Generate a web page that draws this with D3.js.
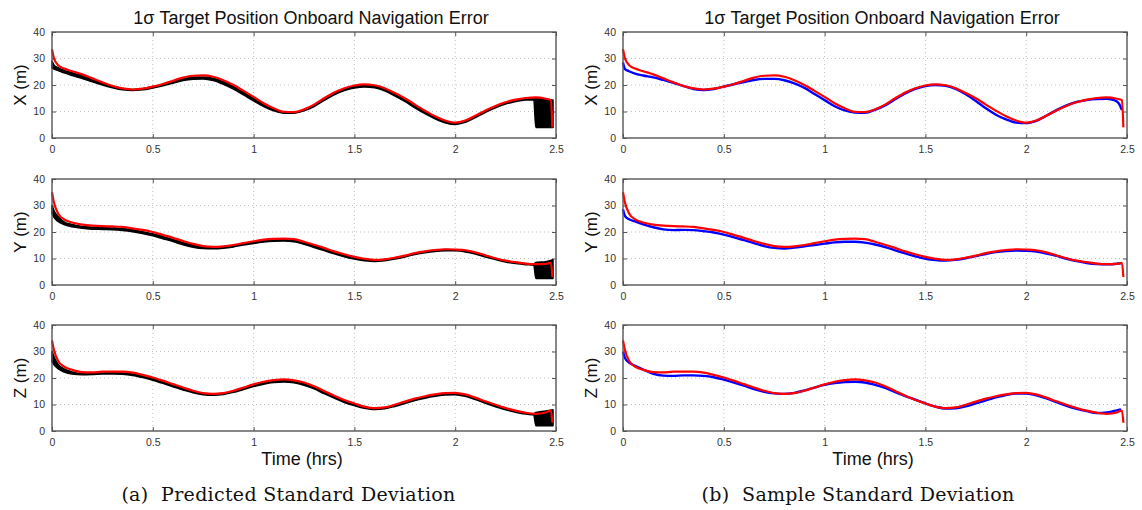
<!DOCTYPE html>
<html>
<head>
<meta charset="utf-8">
<script src="https://cdn.jsdelivr.net/npm/d3@7"></script>
<style>
  html, body { margin: 0; padding: 0; background: #fff; }
  svg { display: block; }
</style>
</head>
<body>
<svg id="fig" width="1142" height="510"></svg>
<script>
// ---- time grid (hrs) shared by the smooth curves ----
const tGrid = [0, 0.01, 0.03, 0.06, 0.1, 0.15, 0.2, 0.25, 0.3, 0.35, 0.4, 0.45, 0.5, 0.55, 0.6, 0.65, 0.7, 0.75, 0.8, 0.85, 0.9, 0.95, 1.0, 1.05, 1.1, 1.15, 1.2, 1.25, 1.3, 1.35, 1.4, 1.45, 1.5, 1.55, 1.6, 1.65, 1.7, 1.75, 1.8, 1.85, 1.9, 1.95, 2.0, 2.05, 2.1, 2.15, 2.2, 2.25, 2.3, 2.35];

// red curve: tail times appended after the grid
const tRedTail = [2.4, 2.45, 2.475, 2.482];
const redX = [33.5, 30, 27.5, 26.2, 25.2, 24, 22.5, 21, 19.6, 18.7, 18.3, 18.6, 19.4, 20.4, 21.6, 22.8, 23.5, 23.6, 23.1, 21.8, 20, 17.8, 15.5, 13.1, 11.2, 9.9, 9.8, 10.8, 12.6, 15, 17.2, 18.8, 19.8, 20.2, 19.9, 18.8, 17, 15, 12.6, 10.3, 8.2, 6.6, 5.8, 6.6, 8.4, 10.4, 12.1, 13.5, 14.5, 15.1, 15.3, 14.8, 14.3, 4];
const redY = [35, 31, 27, 24.8, 23.6, 22.8, 22.4, 22.2, 22.1, 21.9, 21.4, 20.8, 20, 18.9, 17.8, 16.6, 15.5, 14.7, 14.4, 14.6, 15.1, 15.8, 16.5, 17.1, 17.4, 17.5, 17.3, 16.3, 15.2, 14, 12.7, 11.6, 10.6, 9.9, 9.5, 9.7, 10.3, 11.1, 12, 12.7, 13.2, 13.5, 13.4, 13.1, 12.3, 11.2, 10.1, 9.2, 8.6, 8.1, 7.9, 8, 8.4, 3];
const redZ = [34.2, 30.5, 26.5, 24.3, 23.1, 22.2, 22.1, 22.4, 22.4, 22.4, 22, 21.2, 20.2, 19, 17.7, 16.4, 15.2, 14.3, 14, 14.3, 15.2, 16.4, 17.6, 18.6, 19.2, 19.5, 19.1, 18.3, 16.9, 15.1, 13.3, 11.7, 10.4, 9.2, 8.6, 8.9, 9.9, 11.1, 12.2, 13.1, 13.8, 14.3, 14.4, 13.8, 12.6, 11.2, 9.9, 8.7, 7.7, 6.9, 6.5, 7, 7.7, 3.1];

// predicted standard deviation envelope (black): tail times appended after the grid
const tBandTail = [2.39, 2.4, 2.45, 2.485];
const blackXLo = [26.5, 26, 25.5, 24.6, 23.6, 22.5, 21.2, 20, 19, 18.2, 17.9, 18.2, 18.9, 19.7, 20.7, 21.7, 22.2, 22.3, 21.7, 20.3, 18.5, 16.3, 14, 11.9, 10.3, 9.4, 9.4, 10.3, 11.9, 14.2, 16.3, 17.9, 18.9, 19.3, 19, 17.8, 15.9, 13.8, 11.4, 9.2, 7.3, 5.8, 5.1, 5.9, 7.7, 9.7, 11.4, 12.8, 13.8, 14.4, 14.5, 4, 4, 4];
const blackXHi = [29, 27.5, 26.5, 25.5, 24.6, 23.5, 22.1, 20.8, 19.6, 18.7, 18.3, 18.6, 19.4, 20.2, 21.3, 22.3, 22.9, 23, 22.5, 21.2, 19.4, 17.2, 14.9, 12.6, 10.9, 9.8, 9.7, 10.7, 12.4, 14.8, 16.9, 18.5, 19.5, 19.9, 19.6, 18.5, 16.6, 14.6, 12.2, 9.9, 7.9, 6.4, 5.6, 6.4, 8.2, 10.2, 11.9, 13.3, 14.3, 14.9, 15, 15, 14.6, 14.3];
const blackYLo = [27, 25.5, 24, 22.8, 22, 21.4, 21.1, 21, 20.9, 20.6, 20.1, 19.4, 18.6, 17.5, 16.4, 15.2, 14.3, 13.8, 13.7, 13.9, 14.4, 15.1, 15.7, 16.2, 16.5, 16.6, 16.3, 15.4, 14.2, 13, 11.8, 10.7, 9.8, 9.2, 8.9, 9.2, 9.8, 10.6, 11.5, 12.2, 12.7, 12.9, 12.9, 12.5, 11.7, 10.6, 9.6, 8.7, 8.1, 7.7, 7.5, 2.5, 2.5, 2.5];
const blackYHi = [30, 28, 25.8, 23.8, 22.8, 22.1, 21.8, 21.6, 21.5, 21.3, 20.8, 20.1, 19.3, 18.3, 17.2, 16, 15, 14.4, 14.2, 14.4, 14.9, 15.6, 16.3, 16.8, 17.1, 17.2, 17, 16, 14.9, 13.7, 12.4, 11.3, 10.4, 9.7, 9.4, 9.6, 10.2, 11, 11.9, 12.6, 13.1, 13.4, 13.3, 13, 12.2, 11.1, 10, 9.1, 8.5, 8, 7.9, 8.5, 8.8, 9.5];
const blackZLo = [26, 25, 23.5, 22.3, 21.5, 21.2, 21.3, 21.5, 21.5, 21.4, 21, 20.2, 19.2, 18, 16.7, 15.5, 14.4, 13.7, 13.5, 13.8, 14.6, 15.7, 16.8, 17.7, 18.3, 18.5, 18.2, 17.3, 15.9, 14.1, 12.4, 10.8, 9.6, 8.6, 8.1, 8.4, 9.3, 10.4, 11.5, 12.4, 13.1, 13.6, 13.7, 13.1, 11.9, 10.5, 9.2, 8, 7.1, 6.4, 6.1, 2, 2, 2];
const blackZHi = [30, 28, 25.2, 23.4, 22.3, 21.7, 21.7, 21.9, 22, 21.9, 21.5, 20.7, 19.7, 18.5, 17.2, 16, 14.9, 14.1, 13.9, 14.2, 15, 16.1, 17.2, 18.1, 18.7, 19, 18.7, 17.9, 16.5, 14.7, 12.9, 11.3, 10.1, 9, 8.5, 8.8, 9.7, 10.8, 11.9, 12.8, 13.5, 14, 14.1, 13.5, 12.3, 10.9, 9.6, 8.4, 7.4, 6.7, 6.5, 7, 7.5, 8];

// sample standard deviation (blue): tail times appended after the grid
const tBlueXTail = [2.4, 2.44, 2.46, 2.475];
const blueX = [28.5, 26, 25.2, 24.3, 23.6, 22.9, 21.9, 20.8, 19.6, 18.5, 18.1, 18.5, 19.4, 20.3, 21.1, 21.9, 22.3, 22.3, 21.8, 20.6, 18.9, 16.6, 14.3, 12, 10.4, 9.6, 9.5, 10.6, 12.3, 14.6, 16.8, 18.5, 19.6, 20, 19.7, 18.5, 16.5, 14, 11.2, 8.8, 7, 5.8, 5.6, 6.5, 8.4, 10.5, 12.3, 13.6, 14.3, 14.7, 14.8, 14.2, 13, 10.5];
const tBlueTail = [2.4, 2.45, 2.47];
const blueY = [28.6, 26, 24.8, 24, 22.9, 21.8, 21, 20.7, 20.8, 20.7, 20.3, 19.8, 19, 18, 16.9, 15.8, 14.7, 14, 13.8, 14.1, 14.6, 15.1, 15.6, 16.1, 16.3, 16.3, 16, 15.3, 14.3, 13.1, 11.9, 10.8, 9.9, 9.4, 9.2, 9.5, 10.1, 10.9, 11.7, 12.4, 12.8, 13, 12.9, 12.6, 11.9, 11, 9.9, 9, 8.3, 7.9, 7.8, 8, 8.2];
const blueZ = [29.9, 27.5, 25.8, 24.6, 23.2, 21.6, 20.9, 20.8, 21, 21, 20.8, 20.3, 19.4, 18.3, 17.1, 15.8, 14.8, 14.2, 14, 14.4, 15.3, 16.4, 17.4, 18.1, 18.5, 18.6, 18.3, 17.4, 16.3, 14.7, 13.2, 11.8, 10.4, 9.2, 8.5, 8.6, 9.3, 10.4, 11.6, 12.7, 13.6, 14.1, 14.1, 13.5, 12.3, 10.9, 9.5, 8.4, 7.5, 6.8, 7, 7.8, 8.2];

// axes
const xTicks = [0, 0.5, 1, 1.5, 2, 2.5];
const xTickLabels = ["0", "0.5", "1", "1.5", "2", "2.5"];
const yTicks = [0, 10, 20, 30, 40];
const rowLabels = ["X (m)", "Y (m)", "Z (m)"];
const titleText = "1\u03c3 Target Position Onboard Navigation Error";
const xLabelText = "Time (hrs)";
const captions = ["(a)  Predicted Standard Deviation", "(b)  Sample Standard Deviation"];

// ---- layout ----
const svg = d3.select("#fig");
svg.append("rect").attr("width", 1142).attr("height", 510).attr("fill", "#fff");

const colLeft = [52, 623];
const rowTop = [32, 179, 325];
const W = 504, H = 106;
const captionCenter = [288.5, 858];
const sans = "'Liberation Sans', Arial, Helvetica, sans-serif";
const serif = "'DejaVu Serif', 'Liberation Serif', serif";

const xScale = d3.scaleLinear().domain([0, 2.5]).range([0, W]);
const yScale = d3.scaleLinear().domain([0, 40]).range([H, 0]);

const zip = (ts, vs) => ts.map((t, i) => [t, vs[i]]);
const line = d3.line().x(d => xScale(d[0])).y(d => yScale(d[1])).curve(d3.curveMonotoneX);
const band = d3.area().x(d => xScale(d.t)).y0(d => yScale(d.lo)).y1(d => yScale(d.hi)).curve(d3.curveMonotoneX);

const tRed = tGrid.concat(tRedTail);
const tBand = tGrid.concat(tBandTail);
const tBlueX = tGrid.concat(tBlueXTail);
const tBlue = tGrid.concat(tBlueTail);

const redSeries = [redX, redY, redZ];
const bandSeries = [[blackXLo, blackXHi], [blackYLo, blackYHi], [blackZLo, blackZHi]];
const blueSeries = [zip(tBlueX, blueX), zip(tBlue, blueY), zip(tBlue, blueZ)];

function drawAxes(g, row) {
  // grid
  g.append("g").selectAll("line").data(xTicks.slice(1, -1)).join("line")
    .attr("x1", d => xScale(d)).attr("x2", d => xScale(d))
    .attr("y1", 0).attr("y2", H)
    .attr("stroke", "#b8b8b8").attr("stroke-width", 0.9).attr("stroke-dasharray", "1,3");
  g.append("g").selectAll("line").data(yTicks.slice(1, -1)).join("line")
    .attr("y1", d => yScale(d)).attr("y2", d => yScale(d))
    .attr("x1", 0).attr("x2", W)
    .attr("stroke", "#b8b8b8").attr("stroke-width", 0.9).attr("stroke-dasharray", "1,3");

  // bottom / left axes with inward ticks
  const ax = g.append("g").attr("transform", `translate(0,${H})`)
    .call(d3.axisBottom(xScale).tickValues(xTicks).tickFormat((d, i) => xTickLabels[i]).tickSizeInner(-4).tickSizeOuter(0).tickPadding(8));
  const ay = g.append("g")
    .call(d3.axisLeft(yScale).tickValues(yTicks).tickFormat(d3.format("d")).tickSizeInner(-4).tickSizeOuter(0).tickPadding(7));
  // top / right inward ticks
  const at = g.append("g")
    .call(d3.axisTop(xScale).tickValues(xTicks).tickFormat("").tickSizeInner(-4).tickSizeOuter(0));
  const ar = g.append("g").attr("transform", `translate(${W},0)`)
    .call(d3.axisRight(yScale).tickValues(yTicks).tickFormat("").tickSizeInner(-4).tickSizeOuter(0));
  [ax, ay, at, ar].forEach(a => {
    a.select(".domain").remove();
    a.selectAll("line").attr("stroke", "#555").attr("stroke-width", 1);
    a.selectAll("text").attr("fill", "#333").style("font-family", sans).style("font-size", "10.5px");
  });

  // y label
  g.append("text")
    .attr("transform", `translate(-26,${H / 2}) rotate(-90)`)
    .attr("text-anchor", "middle")
    .style("font-family", sans).style("font-size", "17px").attr("fill", "#111")
    .text(rowLabels[row]);
}

function drawFrame(g) {
  g.append("rect").attr("x", 0).attr("y", 0).attr("width", W).attr("height", H)
    .attr("fill", "none").attr("stroke", "#555").attr("stroke-width", 1.4);
}

[0, 1].forEach(col => {
  rowTop.forEach((top, row) => {
    const g = svg.append("g").attr("transform", `translate(${colLeft[col]},${top})`);
    drawAxes(g, row);
    const plot = g.append("g");
    if (col === 0) {
      const [lo, hi] = bandSeries[row];
      const bd = tBand.map((t, i) => ({ t, lo: lo[i], hi: hi[i] }));
      plot.append("path").attr("d", band(bd))
        .attr("fill", "#000").attr("stroke", "#000").attr("stroke-width", 1.6).attr("stroke-linejoin", "round");
    } else {
      plot.append("path").attr("d", line(blueSeries[row]))
        .attr("fill", "none").attr("stroke", "#0000ff").attr("stroke-width", 2.4).attr("stroke-linejoin", "round");
    }
    plot.append("path").attr("d", line(zip(tRed, redSeries[row])))
      .attr("fill", "none").attr("stroke", "#ff0000").attr("stroke-width", 2.2).attr("stroke-linejoin", "round");
    drawFrame(g);

    if (row === 0) {
      g.append("text").attr("x", W / 2 + 7).attr("y", -8).attr("text-anchor", "middle")
        .style("font-family", sans).style("font-size", "18px").attr("fill", "#111")
        .text(titleText);
    }
    if (row === 2) {
      g.append("text").attr("x", W / 2 - 2).attr("y", H + 34).attr("text-anchor", "middle")
        .style("font-family", sans).style("font-size", "18px").attr("fill", "#111")
        .text(xLabelText);
    }
  });
  svg.append("text").attr("x", captionCenter[col]).attr("y", 501).attr("text-anchor", "middle")
    .style("font-family", serif).style("font-size", "19px").style("letter-spacing", "0.3px").attr("fill", "#111")
    .attr("xml:space", "preserve")
    .text(captions[col]);
});
</script>
</body>
</html>
